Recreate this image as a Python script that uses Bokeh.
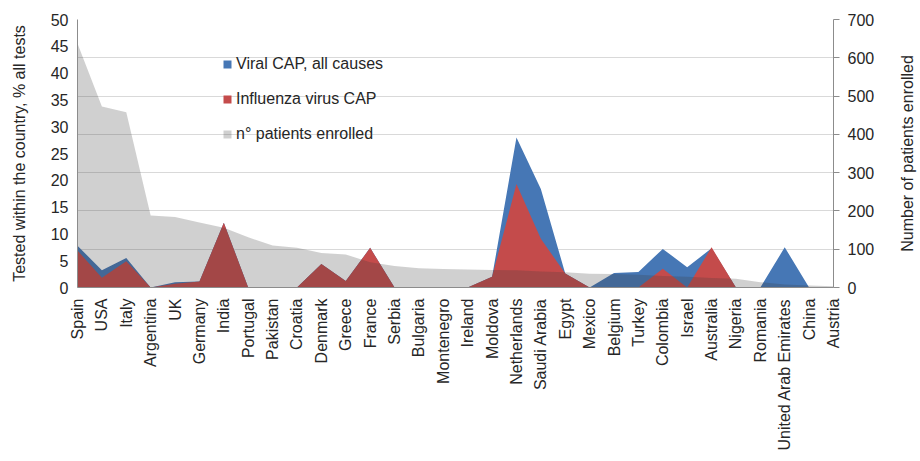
import math
from bokeh.plotting import figure
from bokeh.layouts import row
from bokeh.models import (Range1d, LinearAxis, FixedTicker, Legend, LegendItem,
                          ColumnDataSource)
from bokeh.embed import file_html
from bokeh.resources import INLINE

countries = ["Spain", "USA", "Italy", "Argentina", "UK", "Germany", "India", "Portugal",
             "Pakistan", "Croatia", "Denmark", "Greece", "France", "Serbia", "Bulgaria",
             "Montenegro", "Ireland", "Moldova", "Netherlands", "Saudi Arabia", "Egypt",
             "Mexico", "Belgium", "Turkey", "Colombia", "Israel", "Australia", "Nigeria",
             "Romania", "United Arab Emirates", "China", "Austria"]

viral_cap = [7.8, 3.2, 5.5, 0, 1.0, 1.1, 12.1, 0, 0, 0, 4.4, 1.2, 7.4, 0, 0, 0, 0,
             2.0, 28.0, 18.4, 2.6, 0, 2.7, 2.9, 7.2, 3.8, 7.3, 0, 0, 7.5, 0, 0]
influenza_cap = [6.9, 1.8, 4.9, 0, 0.7, 1.1, 12.1, 0, 0, 0, 4.4, 1.2, 7.4, 0, 0, 0, 0,
                 2.0, 19.3, 9.1, 2.6, 0, 0, 0, 3.5, 0, 7.5, 0, 0, 0, 0, 0]
patients = [637, 473, 458, 188, 184, 170, 156, 131, 110, 104, 90, 86, 66, 56, 50, 48, 47,
            46, 45, 42, 40, 36, 35, 33, 30, 28, 25, 23, 14, 8, 5, 3]

left_ticks = list(range(0, 51, 5))
right_ticks = list(range(0, 701, 100))

FONT = "Liberation Sans"
TXT = "#262626"
AXC = "#8C8C8C"

src = ColumnDataSource(dict(x=list(range(len(countries))), viral=viral_cap,
                            flu=influenza_cap, pat=patients,
                            zero=[0] * len(countries)))

p = figure(width=890, height=461, output_backend="svg", toolbar_location=None,
           x_range=Range1d(0, len(countries) - 1), y_range=Range1d(0, 50),
           min_border_left=77, min_border_right=57, min_border_top=19,
           min_border_bottom=174)
p.outline_line_color = None
p.background_fill_color = "white"
p.extra_y_ranges = {"right": Range1d(0, 700)}

rb = p.varea(x="x", y1="zero", y2="viral", source=src, fill_color="#4677B5")
rr = p.varea(x="x", y1="zero", y2="flu", source=src, fill_color="#C44B4B")
rg = p.varea(x="x", y1="zero", y2="pat", source=src, fill_color="#393939",
             fill_alpha=0.24, y_range_name="right")

# grid follows the right axis
p.xgrid.visible = False
p.ygrid.y_range_name = "right"
p.ygrid.ticker = FixedTicker(ticks=right_ticks)
p.ygrid.grid_line_color = "#D9D9D9"

# bottom axis
xa = p.xaxis[0]
xa.ticker = FixedTicker(ticks=list(range(len(countries))))
xa.major_label_overrides = {i: c for i, c in enumerate(countries)}
xa.major_label_orientation = math.pi / 2
xa.major_tick_out = 0
xa.major_tick_in = 0
xa.minor_tick_line_color = None
xa.major_label_standoff = 11
xa.axis_line_color = AXC

# left axis
ya = p.yaxis[0]
ya.ticker = FixedTicker(ticks=left_ticks)
ya.major_tick_out = 0
ya.major_tick_in = 0
ya.minor_tick_line_color = None
ya.major_label_standoff = 9
ya.axis_line_color = AXC
ya.axis_label = "Tested within the country, % all tests"
ya.axis_label_standoff = 20

# right axis
ra = LinearAxis(y_range_name="right", ticker=FixedTicker(ticks=right_ticks))
ra.major_tick_out = 6
ra.major_tick_in = 0
ra.minor_tick_line_color = None
ra.major_label_standoff = 8
ra.axis_line_color = AXC
ra.major_tick_line_color = AXC
p.add_layout(ra, "right")

for ax in (xa, ya, ra):
    ax.major_label_text_font = FONT
    ax.major_label_text_font_size = "16px"
    ax.major_label_text_color = TXT
    ax.axis_label_text_font = FONT
    ax.axis_label_text_font_size = "16px"
    ax.axis_label_text_font_style = "normal"
    ax.axis_label_text_color = TXT

legend = Legend(items=[LegendItem(label="Viral CAP, all causes", renderers=[rb]),
                       LegendItem(label="Influenza virus CAP", renderers=[rr]),
                       LegendItem(label="n\u00b0 patients enrolled", renderers=[rg])],
                location=(145, 143))
legend.padding = 0
legend.margin = 0
legend.spacing = 15
legend.glyph_height = 10
legend.glyph_width = 10
legend.label_height = 20
legend.label_standoff = 4
legend.label_text_font = FONT
legend.label_text_font_size = "16px"
legend.label_text_color = TXT
legend.border_line_color = None
legend.background_fill_alpha = 0
p.add_layout(legend)

# narrow companion figure that carries the right-hand title (reads bottom to top)
p2 = figure(width=30, height=461, output_backend="svg", toolbar_location=None,
            x_range=Range1d(0, 1), y_range=Range1d(0, 1),
            min_border_left=29, min_border_right=0, min_border_top=19,
            min_border_bottom=174)
p2.outline_line_color = None
p2.grid.visible = False
p2.xaxis.visible = False
t2 = p2.yaxis[0]
t2.ticker = FixedTicker(ticks=[])
t2.axis_line_color = None
t2.major_tick_line_color = None
t2.minor_tick_line_color = None
t2.axis_label = "Number of patients enrolled"
t2.axis_label_standoff = 4
t2.axis_label_text_font = FONT
t2.axis_label_text_font_size = "16px"
t2.axis_label_text_font_style = "normal"
t2.axis_label_text_color = TXT

layout = row(p, p2)
open("out.html", "w").write(file_html(layout, INLINE))
